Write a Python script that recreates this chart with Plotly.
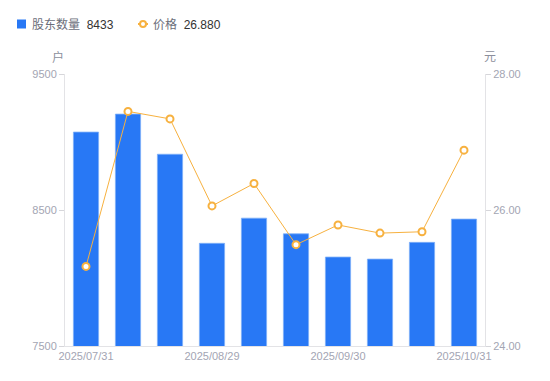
import plotly.graph_objects as go

categories = ["2025/07/31", "2025/08/10", "2025/08/20", "2025/08/29", "2025/09/10",
              "2025/09/19", "2025/09/30", "2025/10/10", "2025/10/20", "2025/10/31"]
holders = [9073, 9205, 8910, 8255, 8440, 8325, 8154, 8139, 8262, 8433]
price = [25.17, 27.45, 27.34, 26.06, 26.39, 25.49, 25.78, 25.66, 25.68, 26.88]
tick_labels = ["2025/07/31", "2025/08/29", "2025/09/30", "2025/10/31"]
left_ticks = [7500, 8500, 9500]
right_ticks = [24, 26, 28]

FONT = "Liberation Sans, Noto Sans CJK SC, sans-serif"
BLUE = "#2878f5"
ORANGE = "#f7b13f"
TICK_C = "#a3a5b3"

W, H = 550, 381
ML, MT = 57, 66
PW, PH = 420, 272
MR, MB = W - ML - PW, H - MT - PH

x = list(range(len(categories)))
tick_pos = [categories.index(t) for t in tick_labels]


def px(xp):
    return (xp - ML) / PW


def py(yp):
    return 1 - (yp - MT) / PH


fig = go.Figure()
fig.add_trace(go.Bar(
    x=x, y=holders, name="股东数量", width=0.6,
    marker=dict(color=BLUE, line=dict(color="#7fb0f8", width=0.8)),
    yaxis="y",
))
fig.add_trace(go.Scatter(
    x=x, y=price, name="价格", mode="lines+markers",
    line=dict(color=ORANGE, width=1),
    marker=dict(symbol="circle", size=7, color="white", line=dict(color=ORANGE, width=2)),
    yaxis="y2",
))

fig.update_layout(
    width=W, height=H,
    margin=dict(l=ML, r=MR, t=MT, b=MB),
    paper_bgcolor="white", plot_bgcolor="white",
    font=dict(family=FONT, size=11, color=TICK_C),
    showlegend=False,
    xaxis=dict(
        range=[-0.5, len(categories) - 0.5],
        tickmode="array", tickvals=tick_pos, ticktext=tick_labels,
        showgrid=False, zeroline=False,
        showline=True, linecolor="#e3e3e6", linewidth=1,
        ticks="", tickfont=dict(size=11, color=TICK_C),
    ),
    yaxis=dict(
        range=[left_ticks[0], left_ticks[-1]],
        tickmode="array", tickvals=left_ticks,
        showgrid=False, zeroline=False,
        showline=True, linecolor="#e3e3e6", linewidth=1,
        ticks="outside", ticklen=5, tickcolor="#d6d6da",
        tickfont=dict(size=11, color=TICK_C),
    ),
    yaxis2=dict(
        range=[right_ticks[0], right_ticks[-1]],
        tickmode="array", tickvals=right_ticks, tickformat=".2f",
        overlaying="y", side="right",
        showgrid=False, zeroline=False,
        showline=True, linecolor="#e3e3e6", linewidth=1,
        ticks="outside", ticklen=5, tickcolor="#d6d6da",
        tickfont=dict(size=11, color=TICK_C),
    ),
)

# unit labels
fig.add_annotation(text="户", xref="paper", yref="paper", x=px(50), y=py(49),
                   xanchor="center", yanchor="middle", showarrow=False,
                   font=dict(size=12, color="#8c8f9c"))
fig.add_annotation(text="元", xref="paper", yref="paper", x=px(482), y=py(49),
                   xanchor="center", yanchor="middle", showarrow=False,
                   font=dict(size=12, color="#8c8f9c"))

# custom legend (top)
LY = 16
fig.add_shape(type="rect", xref="paper", yref="paper",
              x0=px(9), x1=px(18), y0=py(LY + 4.5), y1=py(LY - 4.5),
              fillcolor=BLUE, line=dict(width=0))
fig.add_annotation(
    text="<span style='color:#6b6e7a'>股东数量</span>  <span style='color:#333'>" + str(holders[-1]) + "</span>",
    xref="paper", yref="paper", x=px(22), y=py(LY),
    xanchor="left", yanchor="middle", showarrow=False,
    font=dict(size=12, family=FONT))
fig.add_shape(type="line", xref="paper", yref="paper",
              x0=px(130), x1=px(140), y0=py(LY), y1=py(LY),
              line=dict(color=ORANGE, width=2))
fig.add_shape(type="circle", xref="paper", yref="paper",
              x0=px(132), x1=px(138), y0=py(LY + 3), y1=py(LY - 3),
              fillcolor="white", line=dict(color=ORANGE, width=2))
fig.add_annotation(
    text="<span style='color:#6b6e7a'>价格</span>  <span style='color:#333'>" + f"{price[-1]:.3f}" + "</span>",
    xref="paper", yref="paper", x=px(143), y=py(LY),
    xanchor="left", yanchor="middle", showarrow=False,
    font=dict(size=12, family=FONT))

fig.write_html("out.html")
